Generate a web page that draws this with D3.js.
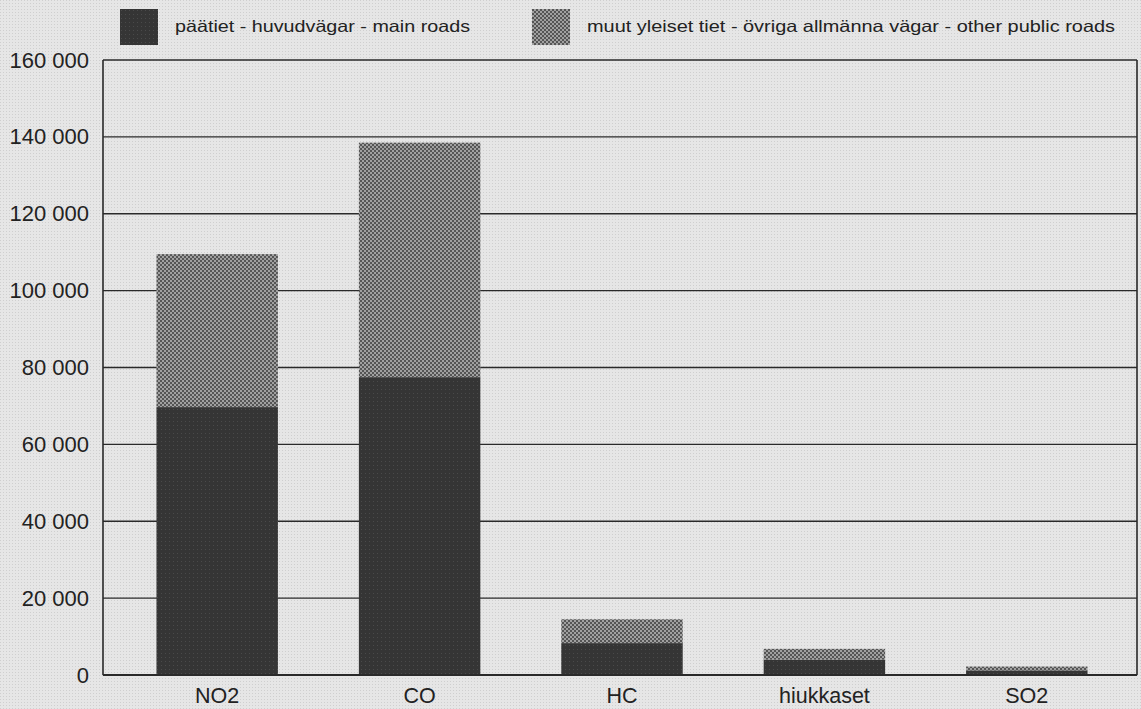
<!DOCTYPE html>
<html><head><meta charset="utf-8">
<script src="https://cdn.jsdelivr.net/npm/d3@7"></script>
<style>html,body{margin:0;padding:0;background:#e2e2e2;}svg{display:block;}</style>
</head><body>
<svg id="chart" width="1141" height="709"></svg>
<script>
const categories = ["NO2", "CO", "HC", "hiukkaset", "SO2"];
const mainRoads = [69700, 77500, 8300, 4000, 1200];
const otherRoads = [39800, 61000, 6200, 2800, 1000];
const seriesNames = ["päätiet - huvudvägar - main roads", "muut yleiset tiet - övriga allmänna vägar - other public roads"];
const yTicks = [0, 20000, 40000, 60000, 80000, 100000, 120000, 140000, 160000];

const W = 1141, H = 709;
const plot = {left: 103, right: 1137, top: 60, bottom: 675};
const svg = d3.select("#chart");
const font = "'Liberation Sans', Arial, Helvetica, sans-serif";

const defs = svg.append("defs");
const bg = defs.append("pattern").attr("id","bgp").attr("width",3).attr("height",3).attr("patternUnits","userSpaceOnUse");
bg.append("rect").attr("width",3).attr("height",3).attr("fill","#e6e6e6");
bg.append("rect").attr("width",1).attr("height",1).attr("fill","#cfcfcf");
const ck = defs.append("pattern").attr("id","chk").attr("width",4).attr("height",4).attr("patternUnits","userSpaceOnUse");
ck.append("rect").attr("width",4).attr("height",4).attr("fill","#a0a0a0");
ck.append("rect").attr("width",2).attr("height",2).attr("fill","#555");
ck.append("rect").attr("x",2).attr("y",2).attr("width",2).attr("height",2).attr("fill","#555");
const dk = defs.append("pattern").attr("id","drk").attr("width",4).attr("height",4).attr("patternUnits","userSpaceOnUse");
dk.append("rect").attr("width",4).attr("height",4).attr("fill","#353535");
dk.append("rect").attr("x",1).attr("y",1).attr("width",1).attr("height",1).attr("fill","#4a4a4a");

svg.append("rect").attr("width",W).attr("height",H).attr("fill","url(#bgp)");

const x = d3.scaleBand().domain(categories).range([116, 1128]).paddingInner(0.4).paddingOuter(0.2);
const y = d3.scaleLinear().domain([0, 160000]).range([plot.bottom, plot.top]);
const fmt = d3.formatLocale({decimal: ",", thousands: " ", grouping: [3], currency: ["", ""]}).format(",d");

svg.append("g").selectAll("line").data(yTicks).join("line")
  .attr("x1", plot.left).attr("x2", plot.right)
  .attr("y1", d => y(d)).attr("y2", d => y(d))
  .attr("stroke", "#2a2a2a").attr("stroke-width", 1.4);

const stackData = categories.map((c, i) => ({cat: c, main: mainRoads[i], other: otherRoads[i]}));
const stack = d3.stack().keys(["main", "other"])(stackData);
const fills = ["url(#drk)", "url(#chk)"];
svg.append("g").selectAll("g").data(stack).join("g")
  .attr("fill", (d, i) => fills[i])
  .selectAll("rect").data(d => d).join("rect")
  .attr("x", d => x(d.data.cat))
  .attr("width", x.bandwidth())
  .attr("y", d => y(d[1]))
  .attr("height", d => y(d[0]) - y(d[1]));

svg.append("line").attr("x1", plot.left).attr("x2", plot.left).attr("y1", plot.top).attr("y2", plot.bottom).attr("stroke","#2a2a2a").attr("stroke-width",1.6);
svg.append("line").attr("x1", plot.right).attr("x2", plot.right).attr("y1", plot.top).attr("y2", plot.bottom).attr("stroke","#2a2a2a").attr("stroke-width",1.6);
svg.append("line").attr("x1", plot.left).attr("x2", plot.right).attr("y1", plot.bottom).attr("y2", plot.bottom).attr("stroke","#2a2a2a").attr("stroke-width",1.8);

const yAxis = d3.axisLeft(y).tickValues(yTicks).tickFormat(fmt).tickSize(0).tickPadding(14);
const ya = svg.append("g").attr("transform", `translate(${plot.left},0)`).call(yAxis);
ya.select(".domain").remove();
ya.selectAll("text").attr("font-family", font).attr("font-size", 22).attr("fill", "#222");

const xAxis = d3.axisBottom(x).tickSize(0);
const xa = svg.append("g").attr("transform", `translate(0,${plot.bottom})`).call(xAxis);
xa.select(".domain").remove();
xa.selectAll("text").attr("y", 28).attr("dy", 0)
  .attr("font-family", font).attr("font-size", 21.5).attr("fill", "#222");

const legendX = [120, 532];
const legendLen = [295, 528];
const lg = svg.append("g").selectAll("g").data(seriesNames).join("g")
  .attr("transform", (d, i) => `translate(${legendX[i]},9)`);
lg.append("rect").attr("width", 38).attr("height", 36).attr("fill", (d, i) => fills[i]);
lg.append("text").attr("x", 55).attr("y", 23)
  .attr("textLength", (d, i) => legendLen[i]).attr("lengthAdjust", "spacingAndGlyphs")
  .attr("font-family", font).attr("font-size", 16.5).attr("fill", "#222").text(d => d);
</script>
</body></html>
